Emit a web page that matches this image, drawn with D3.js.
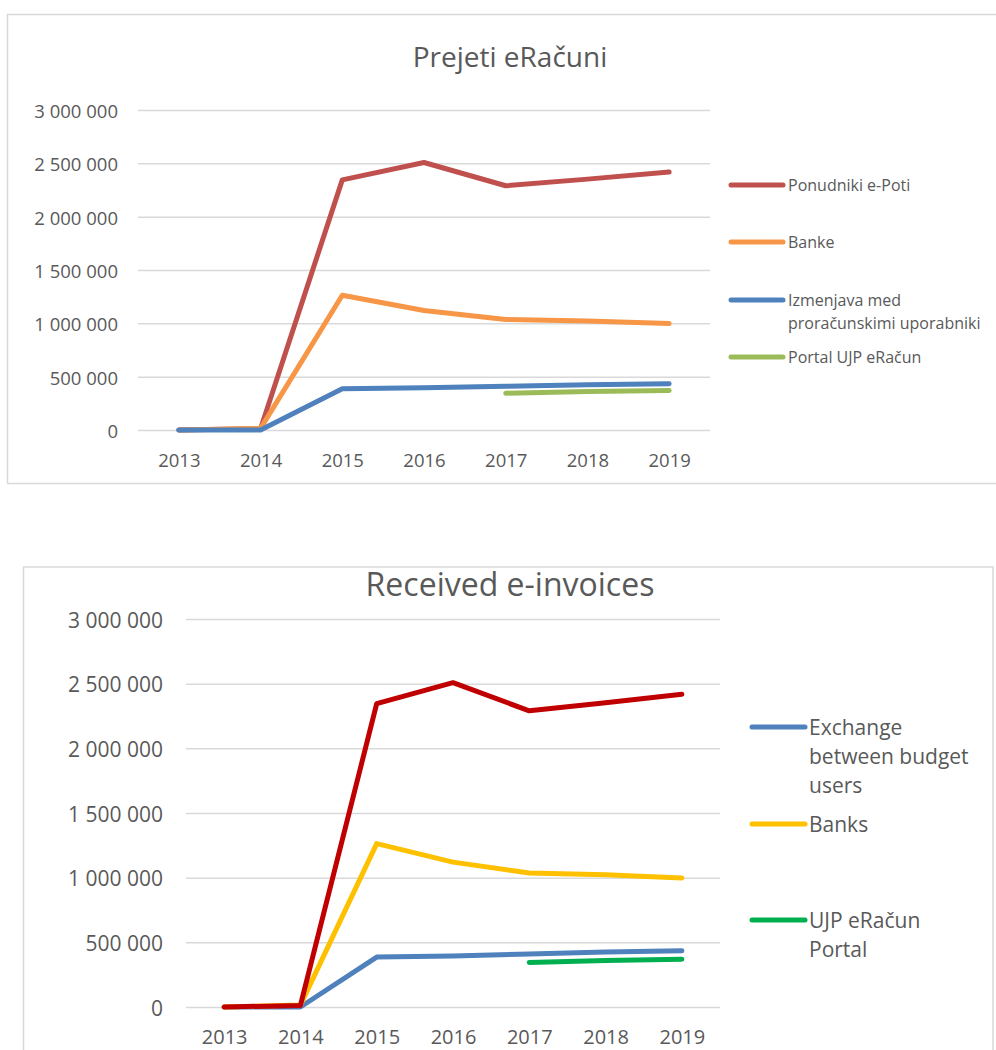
<!DOCTYPE html>
<html><head><meta charset="utf-8">
<script src="https://cdn.jsdelivr.net/npm/d3@7"></script>
<style>
html,body{margin:0;padding:0;background:#fff;}
svg text{font-family:"Open Sans",sans-serif;fill:#595959;}
</style></head>
<body>
<svg id="c" width="996" height="1050"></svg>
<script>
// ---- data ----
const years = ["2013","2014","2015","2016","2017","2018","2019"];
const yTicks = [0, 500000, 1000000, 1500000, 2000000, 2500000, 3000000];
const ponudniki = [0, 12000, 2345000, 2508000, 2290000, 2352000, 2418000];
const banke = [0, 15000, 1263000, 1120000, 1036000, 1022000, 998000];
const izmenjava = [0, 0, 386000, 395000, 410000, 425000, 434000];
const portal = [null, null, null, null, 345000, 360000, 370000];

const title1 = "Prejeti eRačuni";
const title2 = "Received e-invoices";
const legend1 = [["Ponudniki e-Poti"],["Banke"],["Izmenjava med","proračunskimi uporabniki"],["Portal UJP eRačun"]];
const legend2 = [["Exchange","between budget","users"],["Banks"],["UJP eRačun","Portal"]];

const loc = d3.formatLocale({decimal:",", thousands:"\u00a0", grouping:[3], currency:["",""]});
const fmt = loc.format(",");

const svg = d3.select("#c");

function drawChart(cfg){
  const g = svg.append("g");
  g.append("rect").attr("x",cfg.box[0]).attr("y",cfg.box[1]).attr("width",cfg.box[2]).attr("height",cfg.box[3])
    .attr("fill","#fff").attr("stroke","#d9d9d9").attr("stroke-width",1.5);
  const x = d3.scalePoint().domain(years).range([cfg.left, cfg.right]).padding(0.5);
  const y = d3.scaleLinear().domain([0,3000000]).range([cfg.bottom, cfg.top]);
  const ya = g.append("g").attr("transform",`translate(${cfg.left},0)`)
    .call(d3.axisLeft(y).tickValues(yTicks).tickFormat(fmt).tickSize(-(cfg.right-cfg.left)).tickPadding(cfg.ypad));
  ya.select(".domain").remove();
  ya.selectAll(".tick line").attr("stroke","#d9d9d9").attr("stroke-width",1.5);
  ya.selectAll(".tick text").attr("font-size",cfg.fs).attr("fill","#595959").attr("dy",null).attr("dominant-baseline","central");
  const xa = g.append("g").attr("transform",`translate(0,${cfg.bottom})`)
    .call(d3.axisBottom(x).tickSize(0).tickPadding(0));
  xa.select(".domain").remove();
  xa.selectAll(".tick text").attr("font-size",cfg.xfs).attr("fill","#595959").attr("dy",null).attr("y",cfg.xoff).attr("dominant-baseline","central");
  g.append("text").attr("x",cfg.titleX).attr("y",cfg.titleY).attr("text-anchor","middle").attr("dominant-baseline","central")
    .attr("font-size",cfg.titleFs).text(cfg.title);
  const line = d3.line().defined(d=>d.v!=null).x(d=>x(d.k)).y(d=>y(d.v));
  cfg.series.forEach(s=>{
    g.append("path").datum(s.vals.map((v,i)=>({k:years[i],v})))
      .attr("d",line).attr("fill","none").attr("stroke",s.color).attr("stroke-width",5)
      .attr("stroke-linecap","round").attr("stroke-linejoin","round");
  });
  cfg.legend.forEach(L=>{
    g.append("line").attr("x1",L.x1).attr("x2",L.x2).attr("y1",L.y).attr("y2",L.y)
      .attr("stroke",L.color).attr("stroke-width",5).attr("stroke-linecap","round");
    L.lines.forEach((t,i)=>{
      g.append("text").attr("x",L.tx).attr("y",L.y+i*cfg.lh).attr("dominant-baseline","central")
        .attr("font-size",cfg.lfs).text(t);
    });
  });
}

drawChart({
  box:[7.5,14.5,1010,469], left:138, right:710, top:110, bottom:430, ypad:20, fs:18.5, xfs:18.5, xoff:29,
  title:title1, titleX:510, titleY:56, titleFs:28, lfs:16, lh:23,
  series:[
    {vals:ponudniki,color:"#C0504D"},
    {vals:banke,color:"#F79646"},
    {vals:izmenjava,color:"#4F81BD"},
    {vals:portal,color:"#9BBB59"}
  ],
  legend:[
    {lines:legend1[0],color:"#C0504D",y:185,x1:731,x2:783,tx:788},
    {lines:legend1[1],color:"#F79646",y:242,x1:731,x2:783,tx:788},
    {lines:legend1[2],color:"#4F81BD",y:300,x1:731,x2:783,tx:788},
    {lines:legend1[3],color:"#9BBB59",y:357,x1:731,x2:783,tx:788}
  ]
});

drawChart({
  box:[23.5,567,969.5,500], left:186, right:720, top:619, bottom:1007, ypad:23, fs:21, xfs:20, xoff:29,
  title:title2, titleX:510, titleY:583, titleFs:32, lfs:21, lh:29,
  series:[
    {vals:izmenjava,color:"#4F81BD"},
    {vals:banke,color:"#FFC000"},
    {vals:portal,color:"#00B050"},
    {vals:ponudniki,color:"#C00000"}
  ],
  legend:[
    {lines:legend2[0],color:"#4F81BD",y:727,x1:752,x2:805,tx:809},
    {lines:legend2[1],color:"#FFC000",y:824,x1:752,x2:805,tx:809},
    {lines:legend2[2],color:"#00B050",y:920,x1:752,x2:805,tx:809}
  ]
});
</script>
</body></html>
